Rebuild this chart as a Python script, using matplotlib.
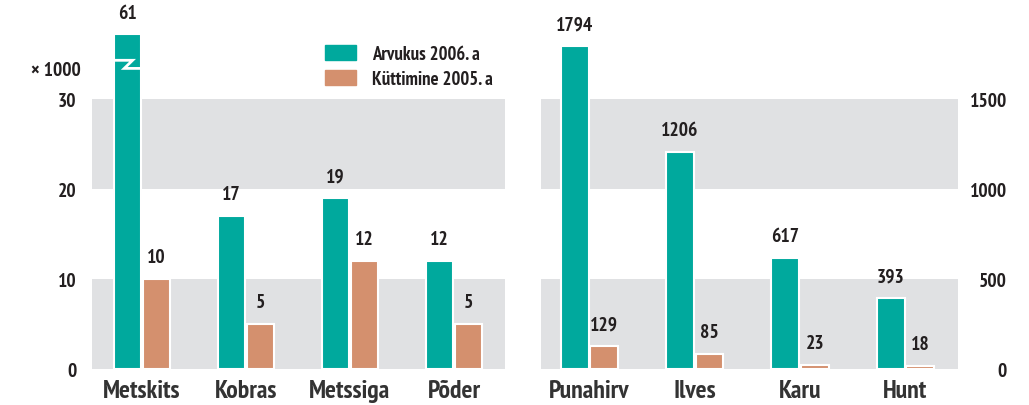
import matplotlib.pyplot as plt
import matplotlib.patches as mpatches
import numpy as np
import logging

logging.getLogger('matplotlib.font_manager').setLevel(logging.ERROR)
plt.rcParams['font.family'] = ['PT Sans Narrow', 'Fira Sans Condensed', 'Asap Condensed', 'DejaVu Sans']

# large game (x 1000)
big_names = ['Metskits', 'Kobras', 'Metssiga', 'Põder']
big_count = [61, 17, 19, 12]
big_hunt = [10, 5, 12, 5]

# predators / red deer
small_names = ['Punahirv', 'Ilves', 'Karu', 'Hunt']
small_count = [1794, 1206, 617, 393]
small_hunt = [129, 85, 23, 18]

teal = '#00a99d'
brown = '#d4906e'
band = '#e0e1e3'
txt = '#231f20'

W, H = 1029, 406
fig = plt.figure(figsize=(W / 100, H / 100), dpi=100)

# axes in pixel terms: y=0 at px 370, 9 px per unit, top at px 10
ax1 = fig.add_axes([92 / W, 36 / H, (505 - 92) / W, 360 / H])
ax2 = fig.add_axes([541 / W, 36 / H, (958 - 541) / W, 360 / H])

bw = 0.265
off = 0.14
cap = 37.2  # where the broken Metskits bar is cut


def setup(ax, top, step):
    ax.set_facecolor('white')
    for s in ax.spines.values():
        s.set_visible(False)
    ax.axhspan(0, step, color=band, zorder=0, lw=0)
    ax.axhspan(2 * step, 3 * step, color=band, zorder=0, lw=0)
    ax.set_ylim(0, top)
    ax.set_yticks([0, step, 2 * step, 3 * step])
    ax.tick_params(axis='both', length=0)
    ax.tick_params(axis='x', pad=7, labelsize=18.5, labelcolor='#333333')


setup(ax1, 40, 10)
setup(ax2, 2000, 500)

ax1.tick_params(axis='y', pad=11, labelsize=14, labelcolor=txt)
for lab in ax1.get_yticklabels():
    lab.set_fontweight('bold')

ax2.yaxis.tick_right()
ax2.tick_params(axis='y', pad=35.3, labelsize=14, labelcolor=txt)
for lab in ax2.get_yticklabels():
    lab.set_horizontalalignment('right')
    lab.set_fontweight('bold')

# left panel
x1 = np.arange(len(big_names))
ax1.set_xlim(-0.48, 3.49)
h1 = [min(v, cap) for v in big_count]
ax1.bar(x1 - off, h1, bw, color=teal, edgecolor='white', linewidth=1.5, zorder=2)
ax1.bar(x1 + off, big_hunt, bw, color=brown, edgecolor='white', linewidth=1.5, zorder=2)
ax1.set_xticks(x1)
ax1.set_xticklabels(big_names, fontweight='bold')
for xi, h, v in zip(x1, h1, big_count):
    ax1.text(xi - off, h + 1.4, str(v), ha='center', va='bottom', fontsize=14,
             fontweight='bold', color=txt)
for xi, v in zip(x1, big_hunt):
    ax1.text(xi + off, v + 1.4, str(v), ha='center', va='bottom', fontsize=14,
             fontweight='bold', color=txt)

# break mark on the Metskits bar
bx0 = x1[0] - off - bw / 2 - 0.01
bx1 = x1[0] - off + bw / 2 + 0.01
ax1.plot([bx0, x1[0] - off + 0.05, x1[0] - off - 0.03, bx1],
         [34.3, 34.3, 33.4, 33.4], color='white', lw=2, zorder=3,
         solid_joinstyle='miter')

fig.text(81 / W, 1 - 71 / H, '× 1000', ha='right', va='center', fontsize=14,
         fontweight='bold', color=txt)

# right panel
x2 = np.arange(len(small_names))
ax2.set_xlim(-0.46, 3.5)
ax2.bar(x2 - off, small_count, bw, color=teal, edgecolor='white', linewidth=1.5, zorder=2)
ax2.bar(x2 + off, small_hunt, bw, color=brown, edgecolor='white', linewidth=1.5, zorder=2)
ax2.set_xticks(x2)
ax2.set_xticklabels(small_names, fontweight='bold')
for xi, v in zip(x2, small_count):
    ax2.text(xi - off, v + 70, str(v), ha='center', va='bottom', fontsize=14,
             fontweight='bold', color=txt)
for xi, v in zip(x2, small_hunt):
    ax2.text(xi + off, v + 70, str(v), ha='center', va='bottom', fontsize=14,
             fontweight='bold', color=txt)

handles = [mpatches.Patch(color=teal, label='Arvukus 2006. a'),
           mpatches.Patch(color=brown, label='Küttimine 2005. a')]
leg = fig.legend(handles=handles, loc='upper left', bbox_to_anchor=(325 / W, 1 - 46 / H),
                 frameon=False, fontsize=13.5, handlelength=1.65, handleheight=0.85,
                 handletextpad=0.85, labelspacing=0.38, borderaxespad=0, borderpad=0)
for t in leg.get_texts():
    t.set_fontweight('bold')
    t.set_color(txt)

fig.savefig('out.png', dpi=100)
